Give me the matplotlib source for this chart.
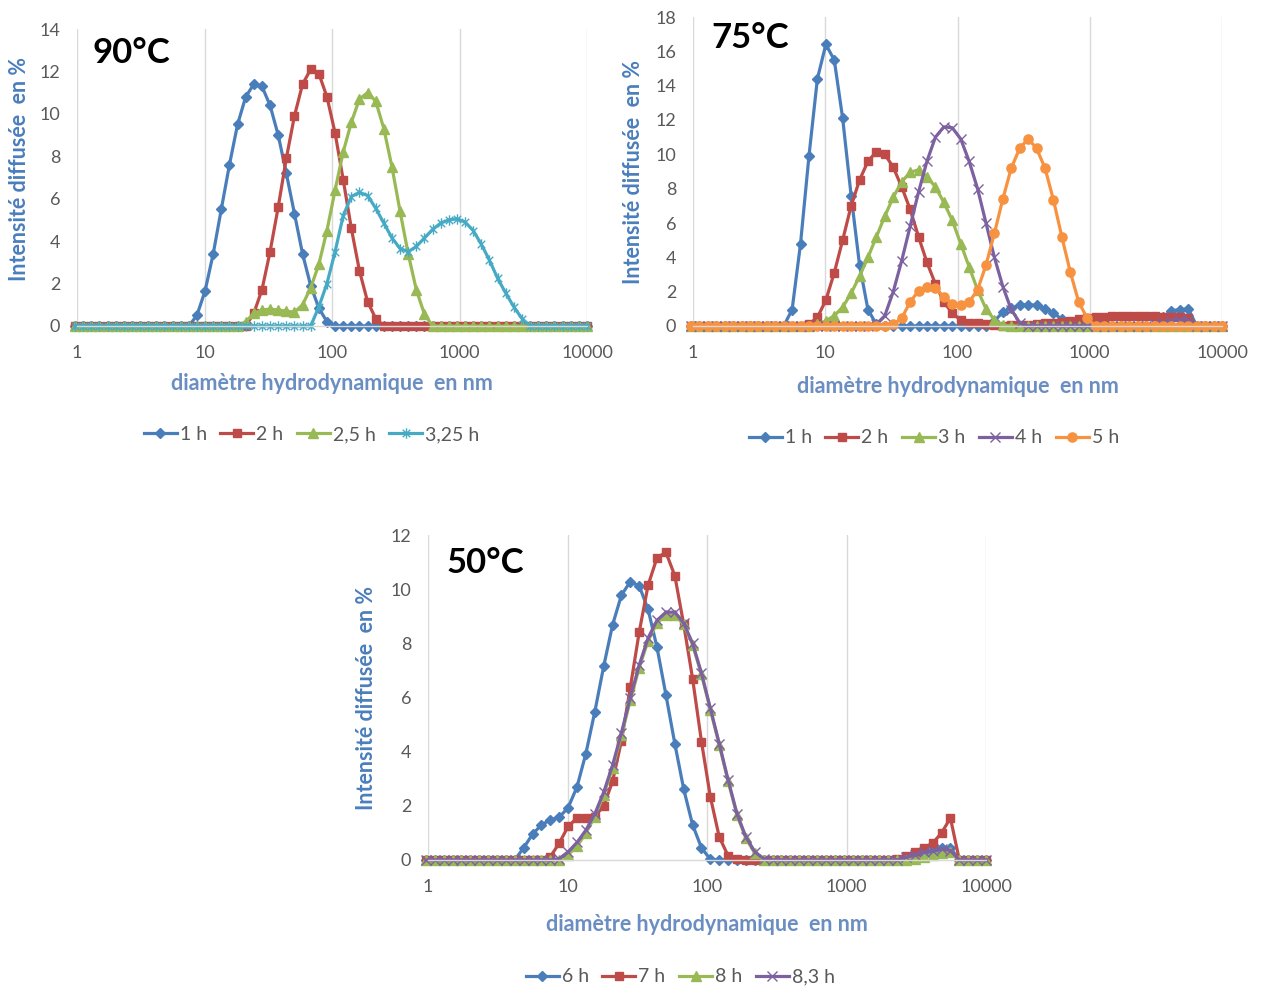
import matplotlib
matplotlib.use("Agg")
import matplotlib.pyplot as plt
from matplotlib.path import Path
from matplotlib.ticker import NullLocator

plt.rcParams['font.family'] = ['Lato', 'DejaVu Sans']

# Size classes (nm) of the DLS distribution
sizes = [0.965, 1.117, 1.294, 1.499, 1.736, 2.010, 2.328, 2.696, 3.122, 3.615,
         4.187, 4.849, 5.615, 6.503, 7.531, 8.721, 10.10, 11.70, 13.54, 15.69,
         18.17, 21.04, 24.36, 28.21, 32.67, 37.84, 43.82, 50.75, 58.77, 68.06,
         78.82, 91.28, 105.7, 122.4, 141.8, 164.2, 190.1, 220.2, 255.0, 295.3,
         342.0, 396.1, 458.7, 531.2, 615.1, 712.4, 825.0, 955.4, 1106, 1281,
         1484, 1718, 1990, 2305, 2669, 3091, 3580, 4145, 4801, 5560,
         6439, 7456, 8635, 10000]

# ---- 90 °C ----
t90_labels = ["1 h", "2 h", "2,5 h", "3,25 h"]
t90_1h = [0, 0, 0, 0, 0, 0, 0, 0, 0, 0,
          0, 0, 0, 0, 0, 0.5, 1.65, 3.4, 5.5, 7.6,
          9.5, 10.8, 11.4, 11.3, 10.4, 9.0, 7.2, 5.3, 3.4, 1.9,
          0.85, 0.2, 0, 0, 0, 0, 0, 0, 0, 0,
          0, 0, 0, 0, 0, 0, 0, 0, 0, 0,
          0, 0, 0, 0, 0, 0, 0, 0, 0, 0,
          0, 0, 0, 0]
t90_2h = [0, 0, 0, 0, 0, 0, 0, 0, 0, 0,
          0, 0, 0, 0, 0, 0, 0, 0, 0, 0,
          0, 0, 0.6, 1.7, 3.5, 5.6, 7.9, 9.9, 11.4, 12.1,
          11.9, 10.8, 9.1, 6.9, 4.6, 2.6, 1.15, 0.35, 0, 0,
          0, 0, 0, 0, 0, 0, 0, 0, 0, 0,
          0, 0, 0, 0, 0, 0, 0, 0, 0, 0,
          0, 0, 0, 0]
t90_25h = [0, 0, 0, 0, 0, 0, 0, 0, 0, 0,
           0, 0, 0, 0, 0, 0, 0, 0, 0, 0,
           0, 0.2, 0.6, 0.75, 0.8, 0.75, 0.7, 0.65, 1.0, 1.8,
           2.9, 4.5, 6.4, 8.2, 9.6, 10.7, 11.0, 10.6, 9.3, 7.5,
           5.4, 3.4, 1.7, 0.55, 0, 0, 0, 0, 0, 0,
           0, 0, 0, 0, 0, 0, 0, 0, 0, 0,
           0, 0, 0, 0]
t90_325h = [0, 0, 0, 0, 0, 0, 0, 0, 0, 0,
            0, 0, 0, 0, 0, 0, 0, 0, 0, 0,
            0, 0, 0, 0, 0, 0, 0, 0, 0, 0,
            0.9, 2.0, 3.5, 5.2, 6.1, 6.3, 6.15, 5.55, 4.85, 4.15,
            3.65, 3.5, 3.75, 4.15, 4.55, 4.85, 5.0, 5.05, 4.9, 4.5,
            3.85, 3.1, 2.25, 1.55, 0.9, 0.35, 0, 0, 0, 0,
            0, 0, 0, 0]

# ---- 75 °C ----
t75_labels = ["1 h", "2 h", "3 h", "4 h", "5 h"]
t75_1h = [0, 0, 0, 0, 0, 0, 0, 0, 0, 0,
          0, 0, 0.95, 4.8, 9.9, 14.4, 16.4, 15.5, 12.1, 7.6,
          3.55, 0.95, 0.1, 0, 0, 0, 0, 0, 0, 0,
          0, 0, 0, 0, 0, 0, 0.3, 0.8, 1.05, 1.2,
          1.25, 1.2, 1.0, 0.75, 0.4, 0.1, 0, 0, 0, 0,
          0, 0, 0, 0, 0, 0, 0.5, 0.9, 0.95, 1.0,
          0, 0, 0, 0]
t75_2h = [0, 0, 0, 0, 0, 0, 0, 0, 0, 0,
          0, 0, 0, 0, 0.1, 0.5, 1.5, 3.1, 5.0, 7.0,
          8.5, 9.6, 10.15, 10.0, 9.25, 8.1, 6.8, 5.2, 3.7, 2.45,
          1.4, 0.75, 0.35, 0.2, 0.15, 0.1, 0.05, 0.02, 0.05, 0.05,
          0.08, 0.1, 0.15, 0.2, 0.25, 0.3, 0.4, 0.45, 0.5, 0.55,
          0.6, 0.6, 0.6, 0.6, 0.6, 0.6, 0.55, 0.55, 0.5, 0.45,
          0, 0, 0, 0]
t75_3h = [0, 0, 0, 0, 0, 0, 0, 0, 0, 0,
          0, 0, 0, 0, 0, 0.1, 0.3, 0.6, 1.1, 1.9,
          2.9, 4.0, 5.2, 6.4, 7.5, 8.4, 8.95, 9.1, 8.7, 8.1,
          7.2, 6.15, 4.8, 3.45, 2.1, 1.0, 0.35, 0.05, 0, 0,
          0, 0, 0, 0, 0, 0, 0, 0, 0, 0,
          0, 0, 0, 0, 0, 0, 0, 0, 0, 0,
          0, 0, 0, 0]
t75_4h = [0, 0, 0, 0, 0, 0, 0, 0, 0, 0,
          0, 0, 0, 0, 0, 0, 0, 0, 0, 0,
          0, 0, 0.1, 0.6, 2.0, 3.8, 5.8, 7.8, 9.6, 11.0,
          11.6, 11.55, 10.9, 9.6, 8.0, 6.0, 4.0, 2.3, 0.95, 0.2,
          0, 0, 0, 0, 0, 0, 0, 0, 0, 0,
          0, 0, 0, 0, 0, 0.1, 0.2, 0.3, 0.35, 0.35,
          0, 0, 0, 0]
t75_5h = [0, 0, 0, 0, 0, 0, 0, 0, 0, 0,
          0, 0, 0, 0, 0, 0, 0, 0, 0, 0,
          0, 0, 0, 0, 0.1, 0.45, 1.4, 2.05, 2.3, 2.2,
          1.7, 1.3, 1.2, 1.4, 2.1, 3.55, 5.4, 7.4, 9.2, 10.35,
          10.9, 10.35, 9.2, 7.35, 5.2, 3.15, 1.4, 0.45, 0, 0,
          0, 0, 0, 0, 0, 0, 0, 0, 0, 0,
          0, 0, 0, 0]

# ---- 50 °C ----
t50_labels = ["6 h", "7 h", "8 h", "8,3 h"]
t50_6h = [0, 0, 0, 0, 0, 0, 0, 0, 0, 0,
          0, 0.45, 0.95, 1.3, 1.48, 1.58, 1.93, 2.7, 3.93, 5.47,
          7.15, 8.68, 9.78, 10.28, 10.12, 9.25, 7.85, 6.1, 4.3, 2.62,
          1.3, 0.45, 0.02, 0, 0, 0, 0, 0, 0, 0,
          0, 0, 0, 0, 0, 0, 0, 0, 0, 0,
          0, 0, 0, 0, 0, 0.1, 0.2, 0.35, 0.45, 0.45,
          0, 0, 0, 0]
t50_7h = [0, 0, 0, 0, 0, 0, 0, 0, 0, 0,
          0, 0, 0, 0, 0.12, 0.62, 1.24, 1.55, 1.55, 1.6,
          2.0, 2.9, 4.4, 6.37, 8.42, 10.15, 11.16, 11.36, 10.5, 8.7,
          6.7, 4.37, 2.33, 0.85, 0.15, 0.02, 0, 0, 0, 0,
          0, 0, 0, 0, 0, 0, 0, 0, 0, 0,
          0, 0, 0, 0.05, 0.15, 0.3, 0.45, 0.62, 1.0, 1.55,
          0, 0, 0, 0]
t50_8h = [0, 0, 0, 0, 0, 0, 0, 0, 0, 0,
          0, 0, 0, 0, 0, 0, 0.2, 0.5, 1.0, 1.6,
          2.4, 3.4, 4.6, 5.9, 7.1, 8.1, 8.75, 9.05, 9.05, 8.7,
          7.95, 6.85, 5.55, 4.25, 2.9, 1.65, 0.8, 0.25, 0, 0,
          0, 0, 0, 0, 0, 0, 0, 0, 0, 0,
          0, 0, 0, 0, 0, 0.05, 0.1, 0.2, 0.25, 0.3,
          0, 0, 0, 0]
t50_83h = [0, 0, 0, 0, 0, 0, 0, 0, 0, 0,
           0, 0, 0, 0, 0, 0.05, 0.3, 0.65, 1.1, 1.7,
           2.5, 3.5, 4.7, 6.0, 7.2, 8.2, 8.85, 9.15, 9.15, 8.75,
           8.0, 6.9, 5.6, 4.3, 2.95, 1.7, 0.85, 0.3, 0.05, 0,
           0, 0, 0, 0, 0, 0, 0, 0, 0, 0,
           0, 0, 0, 0, 0.1, 0.2, 0.3, 0.35, 0.4, 0.35,
           0, 0, 0, 0]

x_ticks = [1, 10, 100, 1000, 10000]
x_tick_labels = ["1", "10", "100", "1000", "10000"]

BLUE = '#4A7EBB'
RED = '#BE4B48'
GREEN = '#98B954'
CYAN = '#46AAC5'
PURPLE = '#7D60A0'
ORANGE = '#F69240'
GRAY_TXT = '#595959'
GRID = '#D9D9D9'

star = Path([(0, -1), (0, 1), (-0.72, -0.72), (0.72, 0.72), (-0.72, 0.72), (0.72, -0.72)],
            [Path.MOVETO, Path.LINETO, Path.MOVETO, Path.LINETO, Path.MOVETO, Path.LINETO])

STY = {
    'blue': dict(color=BLUE, marker='D', ms=5.4, mfc=BLUE, mec=BLUE),
    'red': dict(color=RED, marker='s', ms=6.0, mfc=RED, mec=RED),
    'green': dict(color=GREEN, marker='^', ms=6.6, mfc=GREEN, mec=GREEN),
    'cyan': dict(color=CYAN, marker=star, ms=7.5, mfc='none', mec=CYAN, mew=1.0),
    'purple': dict(color=PURPLE, marker='x', ms=6.5, mec=PURPLE, mew=1.0),
    'orange': dict(color=ORANGE, marker='o', ms=6.6, mfc=ORANGE, mec=ORANGE),
}

fig = plt.figure(figsize=(12.61, 9.90), dpi=100)
W, H = 1261.0, 990.0


def make_axes(x0, x1, ytop, ybot):
    return fig.add_axes([x0 / W, (H - ybot) / H, (x1 - x0) / W, (ybot - ytop) / H])


def draw(ax, series, labels, styles, ymax, title, title_pos, ylab_pos, xlab_pos, leg_pos):
    for vals, lab, st in zip(series, labels, styles):
        ax.plot(sizes, vals, lw=2.3, label=lab, clip_on=False, **STY[st])
    ax.set_xscale('log')
    ax.set_xlim(1, 10000)
    ax.set_ylim(0, ymax)
    ax.set_xticks(x_ticks)
    ax.set_xticklabels(x_tick_labels)
    ax.xaxis.set_minor_locator(NullLocator())
    ax.set_yticks(range(0, ymax + 1, 2))
    ax.tick_params(axis='both', length=0, labelsize=13, labelcolor=GRAY_TXT)
    ax.tick_params(axis='x', pad=14)
    ax.tick_params(axis='y', pad=12)
    ax.grid(axis='x', color=GRID, lw=1.0)
    ax.set_axisbelow(True)
    for s in ['top', 'right', 'left']:
        ax.spines[s].set_visible(False)
    ax.spines['bottom'].set_color(GRID)
    ax.spines['bottom'].set_linewidth(1.0)
    ax.set_ylabel("Intensité diffusée  en %", fontsize=15.5, fontweight='bold', color=BLUE)
    ax.yaxis.set_label_coords(*ylab_pos)
    ax.yaxis.label.set_va('center')
    ax.set_xlabel("diamètre hydrodynamique  en nm", fontsize=15.5, fontweight='bold', color='#6B8EC2')
    ax.xaxis.set_label_coords(*xlab_pos)
    ax.xaxis.label.set_va('center')
    ax.text(title_pos[0], title_pos[1], title, transform=ax.transAxes, fontsize=25,
            fontweight='bold', color='black', ha='left', va='center')
    leg = ax.legend(loc='center', bbox_to_anchor=leg_pos, ncol=len(labels), frameon=False,
                    fontsize=14, handlelength=1.7, handletextpad=0.15, columnspacing=0.7,
                    labelcolor=GRAY_TXT)
    return leg


ax90 = make_axes(77, 587, 29, 326)
draw(ax90, [t90_1h, t90_2h, t90_25h, t90_325h], t90_labels,
     ['blue', 'red', 'green', 'cyan'], 14, "90°C",
     (0.03, 0.92), (-0.112, 0.53), (0.5, -0.195), (0.46, -0.365))

ax75 = make_axes(693, 1222, 17, 326)
draw(ax75, [t75_1h, t75_2h, t75_3h, t75_4h, t75_5h], t75_labels,
     ['blue', 'red', 'green', 'purple', 'orange'], 18, "75°C",
     (0.034, 0.932), (-0.113, 0.5), (0.5, -0.197), (0.455, -0.362))

ax50 = make_axes(428, 986, 535, 860)
draw(ax50, [t50_6h, t50_7h, t50_8h, t50_83h], t50_labels,
     ['blue', 'red', 'green', 'purple'], 12, "50°C",
     (0.034, 0.914), (-0.111, 0.5), (0.5, -0.197), (0.452, -0.36))

fig.savefig("out.png", dpi=100, facecolor='white')
